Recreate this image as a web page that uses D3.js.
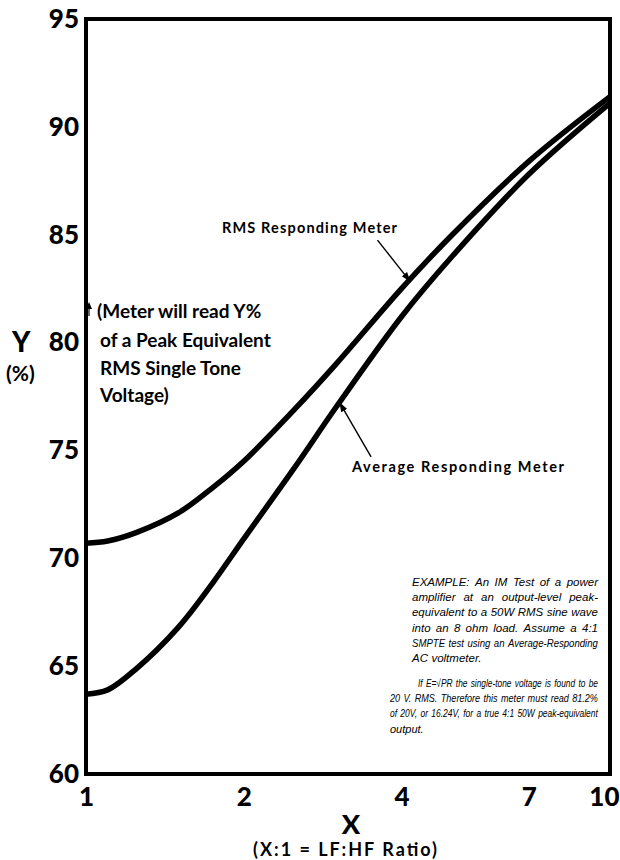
<!DOCTYPE html>
<html>
<head>
<meta charset="utf-8">
<script src="https://cdn.jsdelivr.net/npm/d3@7"></script>
<style>
  html, body { margin: 0; padding: 0; background: #fff; }
  svg { display: block; }
</style>
</head>
<body>
<svg id="chart" width="620" height="860"></svg>
<script>
// ---- data ----
const ratios      = [1, 1.1, 1.25, 1.5, 1.75, 2, 2.5, 3, 4, 5, 7, 10];
const rmsMeter    = [70.7, 70.8, 71.2, 72.1, 73.3, 74.5, 76.9, 79.0, 82.5, 85.0, 88.4, 91.4];
const avgMeter    = [63.7, 63.9, 64.9, 66.8, 68.9, 70.9, 74.2, 77.0, 81.2, 84.0, 87.8, 91.1];
const xTickValues = [1, 2, 4, 7, 10];
const yTickValues = [60, 65, 70, 75, 80, 85, 90, 95];
const seriesNames = ["RMS Responding Meter", "Average Responding Meter"];
// arrow annotations in data coordinates: [fromRatio, fromY, toRatio, toY]
const rmsArrow = [3.6, 84.75, 4.15, 82.85];
const avgArrow = [3.5, 74.7, 3.05, 77.2];
const noteLines = ["(Meter will read Y%", "of a Peak Equivalent", "RMS Single Tone", "Voltage)"];
const example1 = [
  "EXAMPLE: An IM Test of a power",
  "amplifier at an output-level peak-",
  "equivalent to a 50W RMS sine wave",
  "into an 8 ohm load. Assume a 4:1",
  "SMPTE test using an Average-Responding",
  "AC voltmeter."
];
const example2 = [
  "If E=√PR the single-tone voltage is found to be",
  "20 V. RMS. Therefore this meter must read 81.2%",
  "of 20V, or 16.24V, for a true 4:1 50W peak-equivalent",
  "output."
];

(function () {
// ---- layout ----
const svg = d3.select("#chart");
const pL = 86, pR = 610, pT = 19, pB = 774;
const x = d3.scaleLog().domain([1, 10]).range([pL, pR]);
const y = d3.scaleLinear().domain([60, 95]).range([pB, pT]);
const boldFont = "Lato, 'Open Sans', 'DejaVu Sans', sans-serif";

svg.append("rect").attr("width", 620).attr("height", 860).attr("fill", "#fff");

// axes (labels only; frame drawn separately)
const yAxis = svg.append("g").attr("transform", `translate(${pL},0)`)
  .call(d3.axisLeft(y).tickValues(yTickValues).tickSize(0).tickPadding(7).tickFormat(d3.format("d")));
const xAxis = svg.append("g").attr("transform", `translate(0,${pB})`)
  .call(d3.axisBottom(x).tickValues(xTickValues).tickSize(0).tickPadding(14).tickFormat(d3.format("d")));
[yAxis, xAxis].forEach(a => {
  a.select(".domain").remove();
  a.selectAll("text").attr("font-family", boldFont).attr("font-weight", 900)
    .attr("font-size", 26).attr("fill", "#000");
});
// keep the last x label inside the page
xAxis.selectAll(".tick text").filter(d => d === 10).attr("text-anchor", "end").attr("x", 620 - pR - 1);

// frame
svg.append("rect").attr("x", pL).attr("y", pT)
  .attr("width", pR - pL).attr("height", pB - pT)
  .attr("fill", "none").attr("stroke", "#000").attr("stroke-width", 4);

// curves
const line = d3.line().x(d => x(d[0])).y(d => y(d[1])).curve(d3.curveCatmullRom.alpha(0.5));
[rmsMeter, avgMeter].forEach(vals => {
  svg.append("path")
    .datum(ratios.map((r, i) => [r, vals[i]]))
    .attr("d", line)
    .attr("fill", "none").attr("stroke", "#000").attr("stroke-width", 5.5)
    .attr("stroke-linejoin", "round");
});

// arrowhead marker
svg.append("defs").append("marker")
  .attr("id", "ah").attr("viewBox", "0 0 10 10").attr("refX", 9).attr("refY", 5)
  .attr("markerWidth", 7).attr("markerHeight", 7).attr("orient", "auto")
  .append("path").attr("d", "M0,1.5 L10,5 L0,8.5 Z").attr("fill", "#000");

[rmsArrow, avgArrow].forEach(a => {
  svg.append("line")
    .attr("x1", x(a[0])).attr("y1", y(a[1]))
    .attr("x2", x(a[2])).attr("y2", y(a[3]))
    .attr("stroke", "#000").attr("stroke-width", 1.4)
    .attr("marker-end", "url(#ah)");
});

// series labels
svg.append("text").attr("x", 222).attr("y", 233).text(seriesNames[0])
  .attr("font-family", boldFont).attr("font-weight", 700).attr("font-size", 14.5)
  .attr("textLength", 175).attr("lengthAdjust", "spacing").attr("fill", "#000");
svg.append("text").attr("x", 352).attr("y", 472).text(seriesNames[1])
  .attr("font-family", boldFont).attr("font-weight", 700).attr("font-size", 14.5)
  .attr("textLength", 212).attr("lengthAdjust", "spacing").attr("fill", "#000");

// Y axis title
svg.append("text").attr("x", 12).attr("y", 352).text("Y")
  .attr("font-family", boldFont).attr("font-weight", 900).attr("font-size", 28).attr("fill", "#000");
svg.append("text").attr("x", 6).attr("y", 381).text("(%)")
  .attr("font-family", boldFont).attr("font-weight", 700).attr("font-size", 21).attr("fill", "#000");

// X axis title
svg.append("text").attr("x", 351).attr("y", 834).attr("text-anchor", "middle").text("X")
  .attr("font-family", boldFont).attr("font-weight", 900).attr("font-size", 27).attr("fill", "#000");
svg.append("text").attr("x", 253).attr("y", 856).text("(X:1 = LF:HF Ratio)")
  .attr("font-family", boldFont).attr("font-weight", 700).attr("font-size", 18)
  .attr("textLength", 184).attr("lengthAdjust", "spacing").attr("fill", "#000");

// left note
const note = svg.append("text").attr("font-family", boldFont).attr("font-weight", 700)
  .attr("font-size", 19).attr("fill", "#000");
const noteY = [318, 347, 375, 402];
noteLines.forEach((t, i) => note.append("tspan").attr("x", i === 0 ? 97 : 100).attr("y", noteY[i]).text(t));
// small up-arrow at axis near the note
svg.append("path").attr("d", `M${pL + 3},${noteY[0] - 16} l-3,7 l6,0 z`).attr("fill", "#000");
svg.append("line").attr("x1", pL + 3).attr("x2", pL + 3).attr("y1", noteY[0] - 10).attr("y2", noteY[0] - 2)
  .attr("stroke", "#000").attr("stroke-width", 1.2);

// justified example text
function justLine(str, x0, x1, yy, justify, size) {
  const t = svg.append("text").attr("font-family", "'Liberation Sans', Arial, sans-serif")
    .attr("font-style", "italic").attr("font-size", size).attr("fill", "#000");
  const words = str.split(" ");
  const spans = words.map(w => t.append("tspan").text(w));
  const widths = spans.map(s => s.node().getComputedTextLength());
  const total = d3.sum(widths);
  const minGap = size * 0.3;
  let gap = justify && words.length > 1 ? (x1 - x0 - total) / (words.length - 1) : size * 0.3;
  let sc = 1;
  if (justify && gap < minGap) {
    sc = (x1 - x0 - minGap * (words.length - 1)) / total;
    gap = minGap;
  }
  let pos = 0;
  spans.forEach((s, i) => { s.attr("x", pos).attr("y", 0); pos += widths[i] + gap / sc; });
  t.attr("transform", `translate(${x0},${yy}) scale(${sc},1)`);
}
const lh = 15.2;
example1.forEach((s, i) => justLine(s, 412, 598, 586 + i * lh, i < example1.length - 1, 11.5));
example2.forEach((s, i) => justLine(s, i === 0 ? 418 : 390, 598, 687 + i * lh, i < example2.length - 1, 11));
})();
</script>
</body>
</html>
